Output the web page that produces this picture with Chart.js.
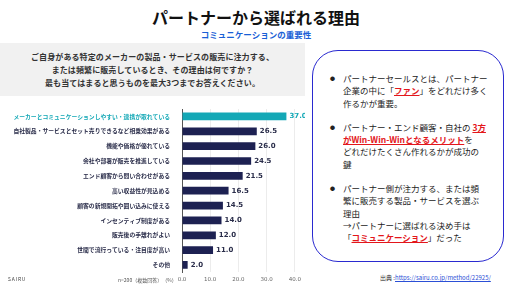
<!DOCTYPE html>
<html lang="ja">
<head>
<meta charset="utf-8">
<script src="https://cdn.jsdelivr.net/npm/chart.js@4"></script>
<style>
  body { margin: 0; width: 512px; height: 287px; overflow: hidden; background: #fff;
         font-family: "Noto Sans CJK JP", "Noto Sans", sans-serif; position: relative; }
  .abs { position: absolute; white-space: nowrap; }
  #title { left: 0; width: 512px; top: 6px; text-align: center; font-size: 16px; font-weight: bold; color: #111; line-height: 22px; }
  #sub { left: 0; width: 512px; top: 28px; text-align: center; font-size: 8.5px; font-weight: bold; color: #1a5fd6; line-height: 12px; }
  #qbox { left: 0; top: 43px; width: 305px; height: 53px; background: #f1f1f1; }
  #q { left: 0; width: 305px; top: 50px; text-align: center; font-size: 8px; font-weight: bold; color: #333; line-height: 13px; letter-spacing: 0.1px; }
  #chartWrap { left: 0; top: 100px; width: 305px; height: 187px; }
  #nlabel { left: 118px; top: 276px; font-size: 5px; color: #555; }
  #sairu { left: 8px; top: 275px; font-size: 5px; color: #444; letter-spacing: 0.8px; }
  #box { left: 312px; top: 50px; width: 190px; height: 210px; border: 1.5px solid #2a2ad0; border-radius: 26px; }
  #notes { left: 330px; top: 72px; font-size: 8.5px; color: #222; line-height: 12.3px; }
  #notes .p { position: relative; padding-left: 13px; margin-bottom: 12px; }
  #notes .p::before { content: "●"; position: absolute; left: 0; top: 0; font-size: 5px; }
  .red { color: #e3161b; font-weight: bold; text-decoration: underline; }
  #src { left: 380px; top: 273px; font-size: 6px; color: #333; }
  #src a { color: #2b4fd6; text-decoration: underline; }
</style>
</head>
<body>
<div class="abs" id="title">パートナーから選ばれる理由</div>
<div class="abs" id="sub">コミュニケーションの重要性</div>
<div class="abs" id="qbox"></div>
<div class="abs" id="q">ご自身がある特定のメーカーの製品・サービスの販売に注力する、<br>または頻繁に販売しているとき、その理由は何ですか？<br>最も当てはまると思うものを最大3つまでお答えください。</div>
<div class="abs" id="chartWrap"><canvas id="chart" width="305" height="187"></canvas></div>
<div class="abs" id="nlabel">n=200（複数回答）　（%）</div>
<div class="abs" id="sairu">SAIRU</div>
<div class="abs" id="box"></div>
<div class="abs" id="notes">
  <div class="p">パートナーセールスとは、パートナー<br>企業の中に「<span class="red">ファン</span>」をどれだけ多く<br>作るかが重要。</div>
  <div class="p">パートナー・エンド顧客・自社の <span class="red">3方</span><br><span class="red">がWin-Win-Winとなるメリット</span>を<br>どれだけたくさん作れるかが成功の<br>鍵</div>
  <div class="p">パートナー側が注力する、または頻<br>繁に販売する製品・サービスを選ぶ<br>理由<br>→パートナーに選ばれる決め手は<br>「<span class="red">コミュニケーション</span>」だった</div>
</div>
<div class="abs" id="src">出典 :<a>https://sairu.co.jp/method/22925/</a></div>

<script>
const categories = [
  'メーカーとコミュニケーションしやすい・連携が取れている',
  '自社製品・サービスとセット売りできるなど相乗効果がある',
  '機能や価格が優れている',
  '会社や部署が販売を推進している',
  'エンド顧客から問い合わせがある',
  '高い収益性が見込める',
  '顧客の新規開拓や囲い込みに使える',
  'インセンティブ制度がある',
  '販売後の手離れがよい',
  '世間で流行っている・注目度が高い',
  'その他',
];
const values = [37.0, 26.5, 26.0, 24.5, 21.5, 16.5, 14.5, 14.0, 12.0, 11.0, 2.0];
const xTicks = [0, 10, 20, 30, 40];

const teal = '#14a8b6';
const navy = '#1d2152';
const barColors = values.map((v, i) => (i === 0 ? teal : navy));

// value labels at the end of each bar
const valueLabels = {
  id: 'valueLabels',
  afterDatasetsDraw(chart) {
    const ctx = chart.ctx;
    const meta = chart.getDatasetMeta(0);
    ctx.save();
    ctx.font = 'bold 7px "DejaVu Sans", sans-serif';
    ctx.textBaseline = 'middle';
    meta.data.forEach((bar, i) => {
      ctx.fillStyle = i === 0 ? teal : '#2a2d4a';
      ctx.fillText(values[i].toFixed(1), bar.x + 3, bar.y);
    });
    ctx.restore();
  },
};

new Chart(document.getElementById('chart'), {
  type: 'bar',
  data: {
    labels: categories,
    datasets: [{
      data: values,
      backgroundColor: barColors,
      barPercentage: 0.52,
      categoryPercentage: 1,
    }],
  },
  options: {
    indexAxis: 'y',
    responsive: false,
    animation: false,
    layout: { padding: { top: 9, right: 10, bottom: 0, left: 0 } },
    plugins: { legend: { display: false }, tooltip: { enabled: false } },
    scales: {
      x: {
        min: 0,
        max: 40,
        afterBuildTicks(scale) {
          scale.ticks = xTicks.map(v => ({ value: v }));
        },
        grid: { color: '#ececec', drawTicks: false },
        border: { display: false },
        ticks: {
          padding: 4,
          color: '#666',
          font: { size: 5.5, family: '"DejaVu Sans", sans-serif' },
          callback: v => v.toFixed(1),
        },
      },
      y: {
        afterFit(scale) { scale.width = 182; },
        grid: { display: false },
        border: { display: true, color: '#555', width: 1 },
        ticks: {
          padding: 4,
          color: ctx => (ctx.index === 0 ? teal : '#2a2d4a'),
          font: { size: 5.8, weight: 'bold', family: '"Noto Sans CJK JP", sans-serif' },
        },
      },
    },
  },
  plugins: [valueLabels],
});
</script>
</body>
</html>
